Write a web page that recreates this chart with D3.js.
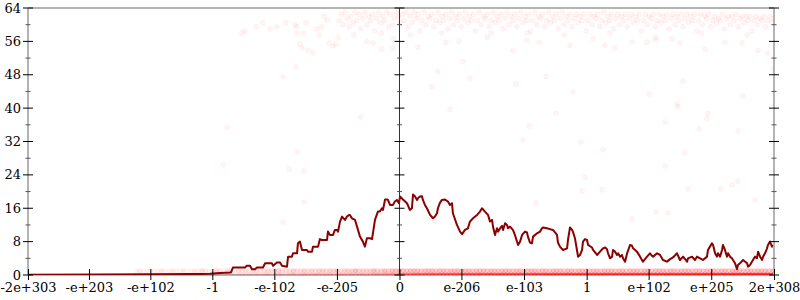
<!DOCTYPE html>
<html>
<head>
<meta charset="utf-8">
<script src="https://cdn.jsdelivr.net/npm/d3@7"></script>
<style>
body { margin: 0; background: #fff; }
text { font-family: "DejaVu Serif", serif; font-size: 13px; fill: #000; }
</style>
</head>
<body>
<div id="chart"></div>
<script>
// x values are double-precision floats, placed by their bit pattern (ordinal / 2^52)
var xMin = -2e303;
var xMax = Number.MAX_VALUE;
var xTickValues = [-2e303, -1e203, -1e102, -1, -1e-102, -1e-205, 0, 1e-206, 1e-103, 1, 1e102, 1e205, Number.MAX_VALUE];
var xTickLabels = ["-2e+303", "-e+203", "-e+102", "-1", "-e-102", "-e-205", "0", "e-206", "e-103", "1", "e+102", "e+205", "2e+308"];
var yMajorTicks = [0, 8, 16, 24, 32, 40, 48, 56, 64];
var yMinorTicks = [4, 12, 20, 28, 36, 44, 52, 60];

// moving average (x in ordinal units)
var lineX = [-2030, -1637, -1364, -1145, -1090, -1036, -981, -921, -910, -845, -834, -817, -806, -790, -779, -746,
  -735, -697, -691, -670, -653, -642, -615, -609, -588, -582, -560, -555, -544, -533, -506, -500, -478, -473, -445,
  -435, -424, -396, -391, -380, -363, -353, -342, -336, -325, -314, -298, -287, -276, -271, -260, -243, -232, -216,
  -200, -189, -178, -161, -150, -134, -118, -107, -96, -90, -79, -68, -63, -52, -36, -25, -14, -3,
  3, 19, 41, 57, 68, 74, 85, 96, 101, 112, 123, 128, 139, 150, 167, 183, 194, 205, 210, 221, 232, 249, 265, 276,
  287, 292, 314, 331, 342, 358, 374, 385, 402, 424, 440, 451, 467, 484, 495, 506, 511, 522, 533, 539, 550, 560,
  566, 577, 588, 593, 604, 620, 631, 648, 659, 670, 686, 697, 702, 713, 724, 730, 752, 768, 779, 784, 806, 822,
  839, 861, 866, 877, 894, 916, 921, 932, 943, 948, 959, 970, 976, 987, 998, 1003, 1014, 1025, 1031, 1052, 1058,
  1080, 1096, 1113, 1124, 1134, 1140, 1151, 1162, 1167, 1178, 1189, 1195, 1206, 1216, 1222, 1233, 1244, 1260,
  1271, 1277, 1298, 1315, 1331, 1353, 1369, 1380, 1386, 1408, 1424, 1435, 1440, 1462, 1479, 1495, 1517, 1533,
  1550, 1572, 1577, 1599, 1615, 1626, 1643, 1659, 1681, 1686, 1697, 1708, 1714, 1725, 1735, 1741, 1752, 1763,
  1768, 1779, 1790, 1796, 1807, 1817, 1823, 1834, 1845, 1850, 1861, 1878, 1900, 1905, 1916, 1932, 1943, 1954,
  1960, 1971, 1982, 1987, 1998, 2009, 2014, 2025, 2036, 2047];
var lineY = [0.05, 0.1, 0.15, 0.25, 0.25, 0.3, 0.5, 0.6, 1.8, 1.8, 2.2, 2.2, 1.4, 1.4, 1.8, 1.8,
  2.8, 2.8, 2.2, 3.0, 3.0, 2.2, 2.0, 4.4, 4.4, 5.2, 5.2, 7.6, 8.0, 6.0, 6.0, 5.6, 5.6, 6.8, 6.8,
  8.6, 8.4, 8.4, 10.4, 9.6, 9.6, 10.8, 10.8, 10.4, 12.8, 14.0, 13.2, 14.0, 14.4, 14.4, 13.6, 13.2, 11.6, 9.2,
  8.0, 6.8, 8.8, 8.8, 8.6, 13.2, 15.2, 15.2, 16.0, 15.6, 18.1, 18.1, 18.0, 16.8, 16.8, 17.6, 18.0, 17.2,
  18.8, 18.1, 17.2, 15.6, 16.0, 19.3, 18.8, 18.0, 18.4, 18.8, 18.9, 18.0, 16.8, 16.0, 14.4, 13.6, 14.0, 14.8, 16.0, 17.3, 18.0, 18.1, 17.6, 16.8,
  17.2, 14.8, 12.0, 10.4, 9.8, 10.8, 11.2, 12.8, 13.6, 14.4, 15.2, 16.0, 15.2, 14.4, 12.8, 13.2, 11.6, 9.6, 11.2, 10.4, 11.2, 11.8,
  10.8, 12.4, 12.0, 11.2, 11.6, 10.8, 9.6, 7.2, 8.0, 9.6, 10.4, 10.2, 9.2, 7.8, 7.6, 9.2, 10.0, 10.4, 11.2, 11.4, 11.2, 11.0,
  10.8, 9.6, 7.8, 6.8, 6.0, 6.4, 8.4, 11.4, 10.8, 10.4, 8.8, 6.0, 4.4, 4.8, 6.0, 8.0, 8.6, 8.4, 7.2, 6.6, 6.0,
  4.8, 5.6, 6.4, 6.6, 6.2, 5.2, 4.0, 4.4, 6.0, 5.6, 4.8, 5.2, 4.4, 4.8, 4.0, 3.2, 5.2, 7.2,
  7.0, 6.4, 5.6, 4.4, 3.2, 4.4, 5.2, 4.6, 4.4, 5.2, 4.8, 4.0, 3.6, 3.2, 3.8, 4.2, 5.2, 3.6,
  4.4, 3.2, 4.0, 4.4, 3.6, 4.4, 4.0, 3.6, 4.4, 6.0, 6.8, 7.6, 7.2, 5.2, 4.4, 5.2, 4.4, 6.0,
  7.2, 6.0, 4.4, 5.2, 4.4, 4.0, 3.6, 2.8, 1.4, 2.4, 2.8, 3.6, 2.8, 2.0, 2.4, 3.6, 4.4, 4.0,
  5.6, 4.4, 3.6, 4.4, 5.2, 6.4, 7.2, 8.0, 6.8, 7.2];

// individual samples [x ordinal, value]
var points = [
  [-965, 26.4], [-943, 35.5], [-637, 12.7], [-637, 47.5], [-604, 25.4], [-566, 49.9], [-560, 29.5], [-522, 24.9], [-522, 17.5], [-213, 37.9],
  [-861, 58], [-845, 58.5], [-784, 59.5], [-746, 60.5], [-708, 59], [-670, 59.5], [-620, 60.5], [-571, 60], [-560, 58], [-560, 59.5],
  [-527, 58], [-511, 60.5], [-451, 59], [-440, 57.5], [-424, 59.5], [-413, 62], [-396, 61],
  [-544, 55.4], [-533, 54.4], [-500, 53.9], [-473, 53.2], [-385, 55.6], [-363, 54.9], [-347, 55.4], [-336, 56.8], [-96, 54.2],
  [-145, 55.6], [-178, 55.9], [-36, 54.4], [-36, 56.6],
  [101, 54.6], [254, 55.8], [325, 56], [347, 51.2], [210, 48.7], [385, 47.2], [620, 53.9], [697, 56.3], [763, 55.8], [500, 58],
  [178, 45.1], [637, 45.8], [801, 47.5], [948, 43.9], [276, 39.6], [855, 38.8], [708, 35.7], [675, 32.4], [992, 31.9], [1014, 23.5],
  [998, 20.1], [746, 17.3], [194, 12.9],
  [932, 55.1], [1123, 55.1], [1178, 54.4], [1271, 55.8], [1353, 55.8], [1402, 56.3], [1489, 56.6], [1533, 55.6], [1670, 54.2],
  [1779, 55.8], [1872, 55.6], [1960, 53.9], [2014, 53.2], [1058, 56.6],
  [2042, 49.4], [1549, 46.5], [1364, 43.4], [1877, 42.9], [1517, 41], [1522, 40.3], [1686, 38.8], [1681, 37.6], [1451, 36.7],
  [1637, 35], [1850, 34.5], [1112, 30], [1560, 29.2], [1451, 26.1], [1107, 20.4], [1577, 20.6], [1757, 20.6], [1817, 21.6],
  [1850, 22.5], [1943, 18], [1271, 13.4], [1402, 15.1], [1468, 14.9], [1932, 5.5],
  [-250, 57.5], [-100, 58], [60, 57.5], [230, 58], [480, 57], [700, 58], [900, 57.5], [1150, 58], [1400, 57], [1650, 58], [1900, 57.5],
  [-330, 61], [-318, 62.5], [-309, 60], [-297, 63], [-286, 61.5], [-275, 59.5], [-266, 62], [-254, 60.5], [-243, 63], [-233, 61],
  [-221, 62.5], [-212, 59], [-200, 61.5], [-189, 63], [-178, 60], [-168, 62], [-157, 61], [-146, 62.5], [-135, 58.5], [-125, 61.5],
  [-114, 63], [-103, 60.5], [-92, 62], [-81, 61], [-70, 63], [-60, 59.5], [-49, 62.5], [-38, 60], [-27, 61.5], [-16, 63], [-6, 62],
  [4, 60.5], [15, 62.5], [26, 61], [37, 63], [48, 59.5], [58, 62], [69, 60.5], [80, 63], [91, 61.5], [102, 62.5], [112, 58.5],
  [123, 61], [134, 63], [145, 60], [156, 62], [166, 61.5], [177, 62.5], [188, 59.5], [199, 61], [210, 63], [220, 60.5], [231, 62],
  [242, 61], [253, 62.5], [264, 59], [274, 61.5], [285, 63], [296, 60], [307, 62], [318, 61], [328, 62.5], [339, 59.5], [350, 61.5],
  [361, 63], [372, 60.5], [382, 62], [393, 61], [404, 62.5], [415, 58.5], [426, 61], [436, 63], [447, 60], [458, 62], [469, 61.5],
  [480, 62.5], [490, 59.5], [501, 61], [512, 63], [523, 60.5], [534, 62], [544, 61], [555, 62.5], [566, 59], [577, 61.5], [588, 63],
  [598, 60], [609, 62], [620, 61], [631, 62.5], [642, 59.5], [652, 61.5], [663, 63], [674, 60.5], [685, 62], [696, 61], [706, 62.5],
  [717, 58.5], [728, 61], [739, 63], [750, 60], [760, 62], [771, 61.5], [782, 62.5], [793, 59.5], [804, 61], [814, 63], [825, 60.5],
  [836, 62], [847, 61], [858, 62.5], [868, 59], [879, 61.5], [890, 63], [901, 60], [912, 62], [922, 61], [933, 62.5], [944, 59.5],
  [955, 61.5], [966, 62.5], [976, 60.5], [987, 62], [998, 61], [1009, 62.5], [1020, 58.5], [1030, 61], [1041, 62.5], [1052, 60],
  [1063, 62], [1074, 61.5], [1084, 62.5], [1095, 59.5], [1106, 61], [1117, 63], [1128, 60.5], [1138, 62], [1149, 61], [1160, 62.5],
  [1171, 59], [1182, 61.5], [1192, 62.5], [1203, 60], [1214, 62], [1225, 61], [1236, 62.5], [1246, 59.5], [1257, 61.5], [1268, 62.5],
  [1279, 60.5], [1290, 62], [1300, 61], [1311, 62.5], [1322, 58.5], [1333, 61], [1344, 62.5], [1354, 60], [1365, 62], [1376, 61.5],
  [1387, 62.5], [1398, 59.5], [1408, 61], [1419, 62.5], [1430, 60.5], [1441, 62], [1452, 61], [1462, 62.5], [1473, 59], [1484, 61.5],
  [1495, 62.5], [1506, 60], [1516, 62], [1527, 61], [1538, 62.5], [1549, 59.5], [1560, 61.5], [1570, 62.5], [1581, 60.5], [1592, 62],
  [1603, 61], [1614, 62.5], [1624, 58.5], [1635, 61], [1646, 62.5], [1657, 60], [1668, 62], [1678, 61.5], [1689, 62.5], [1700, 59.5],
  [1711, 61], [1722, 62], [1732, 60.5], [1743, 61.5], [1754, 61], [1765, 62.5], [1776, 59], [1786, 61.5], [1797, 62], [1808, 60],
  [1819, 62], [1830, 61], [1840, 62.5], [1851, 59.5], [1862, 61.5], [1873, 62], [1884, 60.5], [1894, 62], [1905, 61], [1916, 62],
  [1927, 58.5], [1938, 61], [1948, 62], [1959, 60], [1970, 61.5], [1981, 61], [1992, 62], [2002, 59.5], [2013, 61], [2024, 62],
  [2035, 60.5], [2045, 61.5]
];

// dense rows at value 0 and 1: samples counted per bin of 20 ordinal units starting at rowStart
var rowStart = -1440;
var rowStep = 20;
var zeroCounts = [
  1, 1, 1, 2, 1, 1, 2, 1, 1, 2, 1, 2, 2, 1, 2, 2,
  2, 3, 2, 3, 2, 2, 3, 3, 2, 3, 3, 2, 3, 3, 3, 4,
  3, 4, 3, 4, 5, 3, 4, 5, 4, 3, 5, 6, 4, 5, 6, 5,
  5, 6, 6, 5, 6, 6, 5, 6, 7, 6, 6, 7, 6, 7, 7, 6,
  7, 8, 9, 8, 9, 9, 10, 9,
  14, 15, 16, 15, 17, 18, 17, 18, 18, 20, 18, 20, 21, 20, 20, 21,
  21, 20, 21, 22, 21, 21, 23, 21, 23, 23, 21, 23, 24, 23, 23, 24,
  23, 24, 24, 23, 24, 26, 24, 24, 26, 24, 26, 26, 24, 26, 27, 26,
  26, 27, 26, 27, 27, 26, 27, 27, 28, 27, 27, 28, 27, 28, 28, 27,
  28, 28, 27, 28, 30, 28, 28, 30, 28, 30, 30, 28, 30, 30, 31, 30,
  30, 31, 30, 31, 31, 30, 31, 31, 32, 31, 31, 32, 31, 32, 32, 31,
  32, 32, 31, 32, 33, 32, 32];
var oneCounts = [
  1, 2, 1, 1, 2, 1, 1, 2, 1, 1, 2, 1, 1, 2, 1, 1,
  2, 1, 3, 2, 1, 2, 3, 2, 1, 3, 2, 1, 3, 2, 3, 2,
  3, 3, 2, 3, 3, 3, 3, 4, 3, 3, 3, 4, 3, 3, 4, 3,
  4, 3, 4, 4, 3, 4, 4, 4, 3, 4, 4, 4, 6, 4, 4, 4,
  4, 6, 4, 4, 6, 4, 6, 6,
  6, 6, 5, 6, 6, 6, 5, 6, 6, 6, 5, 6, 6, 5, 6, 6,
  6, 5, 6, 6, 5, 6, 6, 6, 5, 6, 6, 5, 6, 6, 6, 5,
  6, 6, 5, 6, 6, 6, 5, 6, 6, 5, 6, 6, 6, 5, 6, 6,
  5, 6, 6, 6, 5, 6, 6, 5, 6, 6, 6, 5, 6, 6, 5, 6,
  6, 6, 5, 6, 6, 5, 6, 6, 6, 5, 6, 6, 5, 6, 6, 6,
  5, 6, 6, 5, 6, 6, 6, 5, 6, 6, 5, 6, 6, 6, 5, 6,
  6, 5, 6, 6, 6, 5, 6];

// bit pattern of a double as a signed ordinal, in units of 2^52
function ord(v) {
    var view = new DataView(new ArrayBuffer(8));
    view.setFloat64(0, v);
    var hi = view.getUint32(0);
    var lo = view.getUint32(4);
    var mag = ((hi & 0x7fffffff) * 4294967296 + lo) / 4503599627370496;
    return (hi >>> 31) ? -mag : mag;
}

var svgWidth = 800;
var svgHeight = 300;
var margin = { top: 8, right: 26, bottom: 25, left: 28 };
var chartWidth = svgWidth - margin.left - margin.right;
var chartHeight = svgHeight - margin.top - margin.bottom;

var svg = d3.select("#chart")
    .append("svg")
    .attr("width", svgWidth)
    .attr("height", svgHeight);

var chartGroup = svg.append("g")
    .attr("transform", `translate(${margin.left}, ${margin.top})`);

var xScale = d3.scaleLinear()
    .domain([ord(xMin), ord(xMax)])
    .range([0, chartWidth]);

var yScale = d3.scaleLinear()
    .domain([0, 64])
    .range([chartHeight, 0]);

svg.append("defs").append("clipPath")
    .attr("id", "plot-clip")
    .append("rect")
    .attr("width", chartWidth)
    .attr("height", chartHeight);

// frame lines
chartGroup.append("line")
    .attr("x1", 0).attr("x2", chartWidth)
    .attr("y1", 0).attr("y2", 0)
    .attr("stroke", "#b3b3b3").attr("stroke-width", 2);
chartGroup.append("line")
    .attr("x1", 0).attr("x2", chartWidth)
    .attr("y1", chartHeight).attr("y2", chartHeight)
    .attr("stroke", "#b3b3b3").attr("stroke-width", 2);

var plot = chartGroup.append("g").attr("clip-path", "url(#plot-clip)");

// dense rows (one circle stands for n overlapping samples)
var pointAlpha = 0.045;
var rows = zeroCounts.map((n, i) => ({ x: rowStart + i * rowStep, y: 0, n: n }))
    .concat(oneCounts.map((n, i) => ({ x: rowStart + i * rowStep, y: 1, n: n })))
    .filter(d => d.n > 0);

plot.selectAll(".row-pt")
    .data(rows)
    .enter()
    .append("circle")
    .attr("class", "row-pt")
    .attr("cx", d => xScale(d.x))
    .attr("cy", d => yScale(d.y))
    .attr("r", 2.5)
    .attr("fill", "red")
    .attr("fill-opacity", d => 1 - Math.pow(1 - pointAlpha, d.n));

// single samples
plot.selectAll(".pt")
    .data(points)
    .enter()
    .append("circle")
    .attr("class", "pt")
    .attr("cx", d => xScale(d[0]))
    .attr("cy", d => yScale(d[1]))
    .attr("r", 2.5)
    .attr("fill", "red")
    .attr("fill-opacity", pointAlpha)
    .attr("stroke", "red")
    .attr("stroke-opacity", 0.035)
    .attr("stroke-width", 1);

// moving average line
var line = d3.line()
    .x((d, i) => xScale(lineX[i]))
    .y(d => yScale(d));

plot.append("path")
    .datum(lineY)
    .attr("d", line)
    .attr("fill", "none")
    .attr("stroke", "#8b0000")
    .attr("stroke-width", 2)
    .attr("stroke-linejoin", "round");

// vertical axes: left (labelled), middle at zero, right
function drawYAxis(x, color, width, labels) {
    var g = chartGroup.append("g").attr("transform", `translate(${x}, 0)`);
    g.append("line")
        .attr("y1", 0).attr("y2", chartHeight)
        .attr("stroke", color).attr("stroke-width", width);
    g.selectAll(".minor")
        .data(yMinorTicks)
        .enter()
        .append("line")
        .attr("x1", -2.5).attr("x2", 2.5)
        .attr("y1", d => yScale(d)).attr("y2", d => yScale(d))
        .attr("stroke", "#555");
    g.selectAll(".major")
        .data(yMajorTicks)
        .enter()
        .append("line")
        .attr("x1", -5).attr("x2", 5)
        .attr("y1", d => yScale(d)).attr("y2", d => yScale(d))
        .attr("stroke", "#000");
    if (labels) {
        g.selectAll("text")
            .data(yMajorTicks)
            .enter()
            .append("text")
            .attr("x", -7)
            .attr("y", d => yScale(d))
            .attr("dy", "0.35em")
            .attr("text-anchor", "end")
            .text(d => d);
    }
}
drawYAxis(0, "#b3b3b3", 2, true);
drawYAxis(xScale(0), "#333", 1, false);
drawYAxis(chartWidth, "#b3b3b3", 2, false);

// x axis
var bottomAxis = d3.axisBottom(xScale)
    .tickValues(xTickValues.map(ord))
    .tickFormat((d, i) => xTickLabels[i])
    .tickSize(5)
    .tickPadding(3);

var xAxisGroup = chartGroup.append("g")
    .attr("transform", `translate(0, ${chartHeight})`)
    .call(bottomAxis);
xAxisGroup.select(".domain").remove();
xAxisGroup.selectAll(".tick line").attr("y1", -6).attr("y2", 5).attr("stroke", "#000");
xAxisGroup.selectAll(".tick text")
    .attr("font-family", "DejaVu Serif")
    .attr("font-size", 13)
    .attr("fill", "#000");
</script>
</body>
</html>
